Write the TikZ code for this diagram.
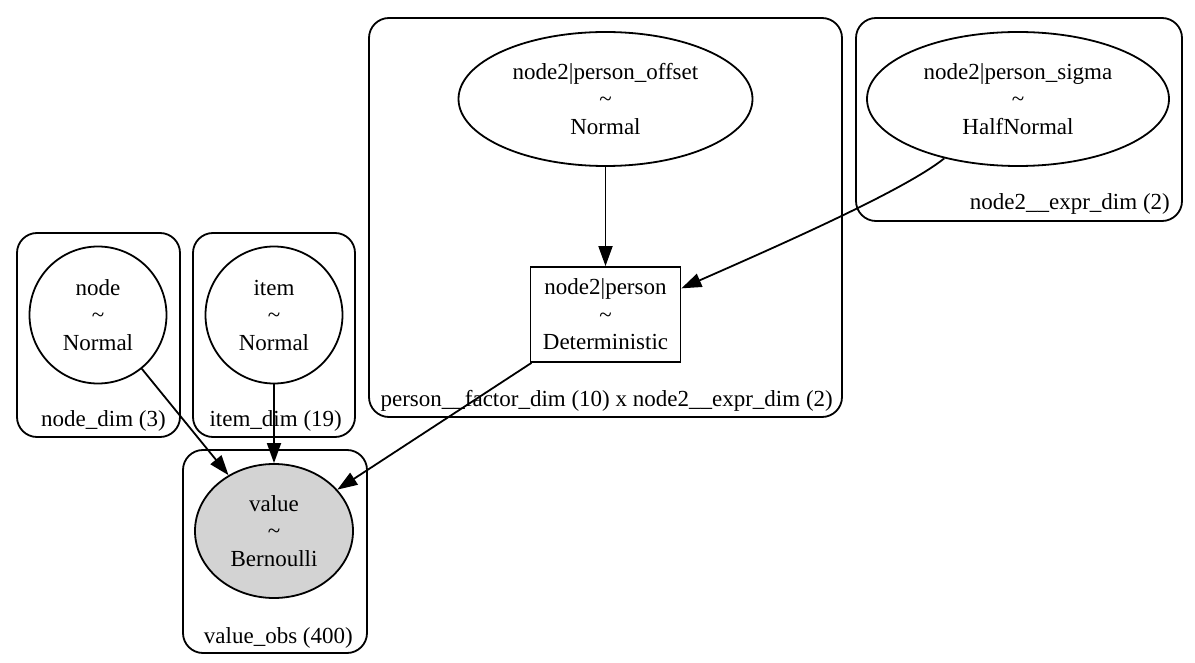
\documentclass[tikz,border=0pt]{standalone}
\usepackage{fontspec}
\setmainfont{Liberation Serif}
\usetikzlibrary{shapes.geometric,arrows.meta}
\definecolor{obsgray}{HTML}{D3D3D3}
\begin{document}
\begin{tikzpicture}[x=1pt,y=-1pt,
 every node/.style={font=\fontsize{23}{27.5}\selectfont},
 cluster/.style={draw, line width=1.8pt, rounded corners=20pt},
 rv/.style={draw, ellipse, line width=1.8pt, align=center, inner sep=0pt},
 rvc/.style={draw, circle, line width=1.8pt, align=center, inner sep=0pt, minimum size=137pt},
 det/.style={draw, rectangle, line width=1.8pt, align=center, inner sep=0pt},
 lab/.style={anchor=base east, inner sep=0pt},
 edge/.style={line width=1.8pt, -{Triangle[length=20pt,width=14pt]}}
]
\useasboundingbox (0,0) rectangle (1195,663);
% clusters
\draw[cluster] (17,233) rectangle (180,437);
\draw[cluster] (193,233) rectangle (355,437);
\draw[cluster] (183,450) rectangle (367,653);
\draw[cluster] (369,18) rectangle (842,417);
\draw[cluster] (856,18) rectangle (1182,221);
% cluster labels
\node[lab] (l1) at (166,426) {node\_dim (3)};
\node[lab] (l2) at (342,426) {item\_dim (19)};
\node[lab] (l3) at (353,643) {value\_obs (400)};
\node[lab] (l4) at (833,406) {person\_\_factor\_dim (10) x node2\_\_expr\_dim (2)};
\node[lab] (l5) at (1170,210) {node2\_\_expr\_dim (2)};
% variables
\node[rv, minimum width=294pt, minimum height=134pt] (offset) at (605.5,99) {node2|person\_offset\\\textasciitilde\\Normal};
\node[rv, minimum width=302pt, minimum height=134pt] (sigma) at (1018,99) {node2|person\_sigma\\\textasciitilde\\HalfNormal};
\node[det, minimum width=150pt, minimum height=95pt] (box) at (605.5,314.5) {node2|person\\\textasciitilde\\Deterministic};
\node[rvc] (node) at (98,315) {node\\\textasciitilde\\Normal};
\node[rvc] (item) at (274,315) {item\\\textasciitilde\\Normal};
\node[rv, fill=obsgray, minimum width=158pt, minimum height=134pt] (value) at (274,531) {value\\\textasciitilde\\Bernoulli};
% edges
\draw[edge] (offset) -- (box);
\draw[edge] (sigma) .. controls (905,190) and (780,245) .. (box.19);
\draw[edge] (node) -- (value);
\draw[edge] (item) -- (value);
\draw[edge] (box) -- (value);
\end{tikzpicture}
\end{document}
